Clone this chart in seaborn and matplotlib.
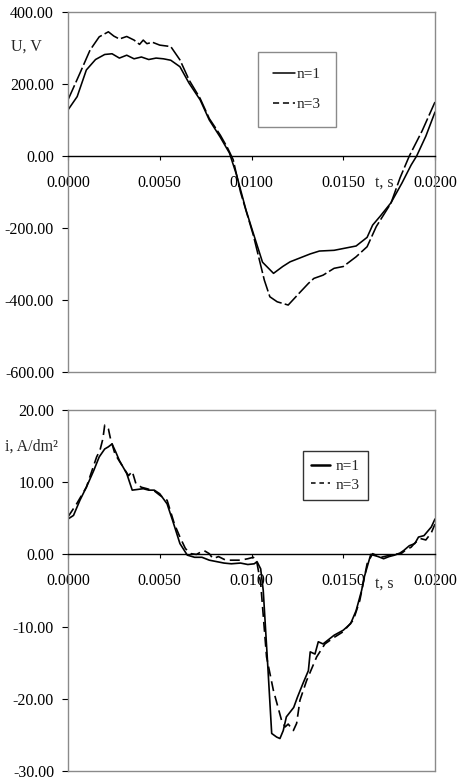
import numpy as np
import pandas as pd
import matplotlib
matplotlib.use("Agg")
import matplotlib.pyplot as plt
from matplotlib.ticker import FormatStrFormatter
from matplotlib.lines import Line2D
import seaborn as sns

# ---------------- data ----------------
series_labels = ["n=1", "n=3"]

u_t_n1 = [0, 0.0005, 0.001, 0.0015, 0.002, 0.0024, 0.0028, 0.0032, 0.0036, 0.004, 0.0044,
          0.0048, 0.0052, 0.0056, 0.0061, 0.0066, 0.0072, 0.0077, 0.0083, 0.0088, 0.0092,
          0.0097, 0.0101, 0.0106, 0.0112, 0.0117, 0.0121, 0.0126, 0.0132, 0.0137, 0.0145,
          0.015, 0.0157, 0.0163, 0.0166, 0.017, 0.0176, 0.0182, 0.0187, 0.019, 0.0195, 0.02]
u_v_n1 = [128, 165, 239, 268, 282, 284, 272, 280, 270, 275, 268,
          272, 270, 266, 248, 202, 156, 100, 52, 8, -55,
          -150, -215, -295, -326, -307, -294, -284, -272, -264, -262,
          -257, -250, -226, -192, -168, -130, -75, -25, 0, 55, 122]

u_t_n3 = [0, 0.0003, 0.00065, 0.0012, 0.0017, 0.0022, 0.0025, 0.0028, 0.0032, 0.0036, 0.0039,
          0.0041, 0.0043, 0.0046, 0.005, 0.0056, 0.0061, 0.0066, 0.0072, 0.0077, 0.0083,
          0.0087, 0.009, 0.0094, 0.0101, 0.0107, 0.011, 0.0114, 0.012, 0.0126, 0.0131,
          0.0134, 0.0139, 0.0145, 0.015, 0.0157, 0.0163, 0.0168, 0.0176, 0.0181, 0.0186,
          0.0193, 0.02]
u_v_n3 = [156, 190, 230, 294, 331, 345, 333, 325, 332, 322, 310,
          322, 312, 316, 308, 304, 267, 211, 160, 104, 58,
          22, -10, -100, -220, -345, -391, -405, -414, -381, -354,
          -340, -331, -312, -307, -280, -252, -196, -131, -60, 0,
          70, 150]

i_t_n1 = [0, 0.0003, 0.00065, 0.001, 0.0014, 0.0017, 0.002, 0.0022, 0.0024, 0.0026, 0.0028,
          0.0032, 0.0035, 0.0038, 0.0041, 0.0044, 0.0047, 0.005, 0.0054, 0.0057, 0.0061,
          0.0065, 0.0069, 0.0073, 0.0077, 0.0081, 0.0085, 0.0089, 0.0094, 0.0098, 0.01015,
          0.0103, 0.0105, 0.01064, 0.0109, 0.0111, 0.01137, 0.01155, 0.01173, 0.0119, 0.0123,
          0.0125, 0.0128, 0.0131, 0.0132, 0.01346, 0.01364, 0.0139, 0.0145, 0.015, 0.0154,
          0.0157, 0.016, 0.01615, 0.0165, 0.0169, 0.0172, 0.0175, 0.0178, 0.0181, 0.0183,
          0.0186, 0.0189, 0.0191, 0.0194, 0.0198, 0.02]
i_v_n1 = [4.9, 5.4, 7.5, 9.3, 11.6, 13.5, 14.6, 14.9, 15.3, 14.2, 13.0,
          11.2, 8.9, 9.0, 9.1, 8.9, 8.9, 8.4, 7.0, 4.7, 1.5,
          -0.1, -0.4, -0.4, -0.8, -1.0, -1.2, -1.3, -1.2, -1.4, -1.3,
          -1.0, -2.0, -5.0, -16.0, -24.8, -25.3, -25.5, -24.4, -22.5, -21.2,
          -19.8, -17.9, -16.1, -13.5, -13.8, -12.1, -12.4, -11.2, -10.5, -9.6,
          -7.8, -5.0, -3.1, 0.0, -0.3, -0.6, -0.3, -0.1, 0.2, 0.55,
          1.2, 1.5, 2.4, 2.6, 3.8, 4.9]

i_t_n3 = [0, 0.00047, 0.001, 0.00156, 0.00174, 0.0019, 0.002, 0.0022, 0.0023, 0.00256, 0.003,
          0.0033, 0.0035, 0.0037, 0.004, 0.0043, 0.0047, 0.005, 0.0054, 0.0058, 0.0061,
          0.0064, 0.0067, 0.007, 0.0074, 0.0077, 0.0079, 0.0082, 0.0086, 0.0089, 0.0094,
          0.0098, 0.0101, 0.0103, 0.0105, 0.01082, 0.01119, 0.01164, 0.01183, 0.012, 0.01228,
          0.01246, 0.01264, 0.013, 0.01355, 0.014, 0.0145, 0.015, 0.01555, 0.0159, 0.0163,
          0.0166, 0.01706, 0.0174, 0.0178, 0.01815, 0.0184, 0.0187, 0.01887, 0.0192, 0.0195,
          0.0198, 0.02]
i_v_n3 = [5.2, 7.0, 9.3, 13.5, 14.4, 16.0, 17.9, 17.4, 16.2, 13.9, 12.1,
          10.9, 11.5, 9.8, 9.3, 9.1, 8.8, 8.2, 7.5, 4.2, 2.4,
          0.8, 0.1, 0.0, 0.55, 0.1, -0.6, -0.3, -0.8, -0.8, -0.8,
          -0.6, -0.4, -1.2, -4.0, -14.2, -18.8, -23.0, -23.9, -23.5, -24.4,
          -23.4, -20.2, -17.5, -14.2, -12.4, -11.5, -10.7, -9.1, -6.4, -1.3,
          0.1, -0.4, -0.2, 0.0, 0.1, 0.6, 1.0, 1.5, 2.2, 2.0,
          3.0, 4.2]

u_yticks = [400, 200, 0, -200, -400, -600]
i_yticks = [20, 10, 0, -10, -20, -30]
x_ticks = [0.0, 0.005, 0.01, 0.015, 0.02]

# ---------------- style ----------------
sns.set_style("white")
plt.rcParams["font.family"] = ["Liberation Serif", "DejaVu Serif"]
plt.rcParams["font.size"] = 11.5

fig = plt.figure(figsize=(4.62, 7.82), dpi=100)
W, H = 462, 782


def add_ax(x0, y0, x1, y1):
    return fig.add_axes([x0 / W, 1 - y1 / H, (x1 - x0) / W, (y1 - y0) / H])


ax1 = add_ax(68, 12, 435, 372)
ax2 = add_ax(68, 410, 435, 771)

df_u = pd.concat([
    pd.DataFrame({"t": u_t_n1, "v": u_v_n1, "n": series_labels[0]}),
    pd.DataFrame({"t": u_t_n3, "v": u_v_n3, "n": series_labels[1]}),
])
df_i = pd.concat([
    pd.DataFrame({"t": i_t_n1, "v": i_v_n1, "n": series_labels[0]}),
    pd.DataFrame({"t": i_t_n3, "v": i_v_n3, "n": series_labels[1]}),
])

sns.lineplot(data=df_u, x="t", y="v", style="n",
             dashes={series_labels[0]: "", series_labels[1]: (10, 2)}, color="black",
             linewidth=1.15, estimator=None, sort=False, legend=False, ax=ax1)
sns.lineplot(data=df_i, x="t", y="v", style="n",
             dashes={series_labels[0]: "", series_labels[1]: (6, 3)}, color="black",
             linewidth=1.2, estimator=None, sort=False, legend=False, ax=ax2)

frame_gray = "#8a8a8a"


def style_axis(ax, ylim, yticks, yfmt, ylabel_y_data):
    ax.set_xlim(0, 0.02)
    ax.set_ylim(*ylim)
    ax.set_xlabel("")
    ax.set_ylabel("")
    ax.set_xticks(x_ticks)
    ax.set_yticks(yticks)
    ax.xaxis.set_major_formatter(FormatStrFormatter("%.4f"))
    ax.yaxis.set_major_formatter(FormatStrFormatter(yfmt))
    for s in ["top", "right", "left"]:
        ax.spines[s].set_color(frame_gray)
        ax.spines[s].set_linewidth(1.0)
    ax.spines["bottom"].set_position(("data", 0))
    ax.spines["bottom"].set_color("black")
    ax.spines["bottom"].set_linewidth(1.0)
    ax.add_line(Line2D([0, 1], [0, 0], transform=ax.transAxes, color=frame_gray,
                       linewidth=1.0, clip_on=False))
    ax.tick_params(axis="x", direction="out", length=3, width=0.8, pad=10.5,
                   labelsize=11.5, colors="black", bottom=True)
    ax.tick_params(axis="y", direction="out", length=4, width=0.8, pad=6,
                   labelsize=11.5, colors="black", left=True)
    ax.text(0.01722, ylabel_y_data, "t, s", ha="center", va="center", fontsize=11.5)


style_axis(ax1, (-600, 400), u_yticks, "%.2f", -75)
style_axis(ax2, (-30, 20), i_yticks, "%.2f", -4.0)

fig.text(26 / W, 1 - 47 / H, "U, V", ha="center", va="center", fontsize=11.5)
fig.text(31 / W, 1 - 447 / H, "i, A/dm²", ha="center", va="center", fontsize=11.5)

h1 = [Line2D([], [], color="black", lw=1.1), Line2D([], [], color="black", lw=1.1, dashes=(4, 2.5))]
leg1 = ax1.legend(h1, series_labels, loc="upper left", bbox_to_anchor=(0.518, 0.889),
                  frameon=True, fancybox=False, edgecolor=frame_gray, framealpha=1,
                  borderpad=1.0, labelspacing=1.1, handlelength=1.4, handletextpad=0.1,
                  borderaxespad=0, fontsize=11)
leg1.get_frame().set_linewidth(1.0)

h2 = [Line2D([], [], color="black", lw=1.8), Line2D([], [], color="black", lw=1.1, dashes=(3, 2.5))]
leg2 = ax2.legend(h2, series_labels, loc="upper left", bbox_to_anchor=(0.640, 0.886),
                  frameon=True, fancybox=False, edgecolor="#333333", framealpha=1,
                  borderpad=0.55, labelspacing=0.3, handlelength=1.2, handletextpad=0.4,
                  borderaxespad=0, fontsize=11)
leg2.get_frame().set_linewidth(1.0)

fig.savefig("out.png", dpi=100)
